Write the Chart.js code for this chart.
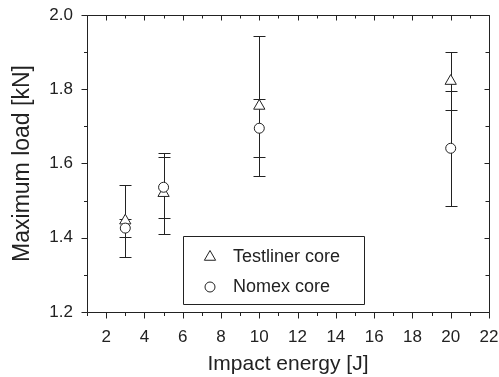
<!DOCTYPE html>
<html>
<head>
<meta charset="utf-8">
<script src="https://cdn.jsdelivr.net/npm/chart.js@4"></script>
<style>
  body { margin: 0; background: #fff; }
  #wrap { width: 499px; height: 377px; }
</style>
</head>
<body>
<div id="wrap"><canvas id="loadChart" width="499" height="377"></canvas></div>
<script>
// impact energy [J]
const energy = [3, 5, 10, 20];

// maximum load [kN] and error (+/-)
const testlinerLoad = [1.446, 1.520, 1.755, 1.822];
const testlinerErr = [0.097, 0.109, 0.189, 0.077];
const nomexLoad = [1.426, 1.536, 1.695, 1.641];
const nomexErr = [0.025, 0.082, 0.078, 0.155];

// tick labels
const xTickValues = [2, 4, 6, 8, 10, 12, 14, 16, 18, 20, 22];
const yTickValues = [1.2, 1.4, 1.6, 1.8, 2.0];

const ink = '#222';

// error bars, drawn under the hollow markers
const errorBars = {
    id: 'errorBars',
    beforeDatasetsDraw(chart) {
        const { ctx, scales: { x, y } } = chart;
        ctx.save();
        ctx.strokeStyle = ink;
        ctx.lineWidth = 1;
        chart.data.datasets.forEach((ds, i) => {
            if (!chart.isDatasetVisible(i)) return;
            ds.data.forEach((p, j) => {
                const e = ds.errors[j];
                const px = Math.round(x.getPixelForValue(p.x)) + 0.5;
                const top = Math.round(y.getPixelForValue(p.y + e)) + 0.5;
                const bot = Math.round(y.getPixelForValue(p.y - e)) + 0.5;
                ctx.beginPath();
                ctx.moveTo(px, top); ctx.lineTo(px, bot);
                ctx.moveTo(px - 6, top); ctx.lineTo(px + 6, top);
                ctx.moveTo(px - 6, bot); ctx.lineTo(px + 6, bot);
                ctx.stroke();
            });
        });
        ctx.restore();
    }
};

// box frame with major / minor ticks (out on bottom+left, in on top+right)
const frameTicks = {
    id: 'frameTicks',
    afterDraw(chart) {
        const { ctx, chartArea: a, scales: { x, y } } = chart;
        const L = Math.round(a.left) + 0.5, R = Math.round(a.right) + 0.5;
        const T = Math.round(a.top) + 0.5, B = Math.round(a.bottom) + 0.5;
        ctx.save();
        ctx.strokeStyle = ink;
        ctx.lineWidth = 1;
        ctx.beginPath();
        ctx.rect(L, T, R - L, B - T);

        for (let v = x.min; v <= x.max + 1e-9; v += 1) {
            const major = xTickValues.includes(v);
            const px = Math.round(x.getPixelForValue(v)) + 0.5;
            const len = major ? 6 : 3.5;
            ctx.moveTo(px, B); ctx.lineTo(px, B + len);
            ctx.moveTo(px, T); ctx.lineTo(px, T + (major ? 5 : 3));
        }
        for (let k = 0; k <= 8; k++) {
            const v = y.min + k * 0.1;
            const major = k % 2 === 0;
            const py = Math.round(y.getPixelForValue(v)) + 0.5;
            const len = major ? 6 : 3.5;
            ctx.moveTo(L, py); ctx.lineTo(L - len, py);
            ctx.moveTo(R, py); ctx.lineTo(R - (major ? 5 : 4), py);
        }
        ctx.stroke();
        ctx.restore();
    }
};

// legend box inside the plot
const boxLegend = {
    id: 'boxLegend',
    afterDraw(chart) {
        const { ctx } = chart;
        const box = { left: 183.5, top: 236.5, right: 364.5, bottom: 304.5 };
        ctx.save();
        ctx.strokeStyle = ink;
        ctx.lineWidth = 1;
        ctx.fillStyle = '#fff';
        ctx.beginPath();
        ctx.rect(box.left, box.top, box.right - box.left, box.bottom - box.top);
        ctx.fill();
        ctx.stroke();
        ctx.font = '18px "Liberation Sans", Arial, sans-serif';
        ctx.textBaseline = 'middle';
        chart.data.datasets.forEach((ds, i) => {
            const cy = 257 + i * 30;
            Chart.helpers.drawPoint(ctx, {
                pointStyle: ds.pointStyle,
                radius: ds.pointRadius,
                borderWidth: 1
            }, 210, cy);
            ctx.fillStyle = ink;
            ctx.fillText(ds.label, 233, cy);
            ctx.fillStyle = '#fff';
        });
        ctx.restore();
    }
};

const ctx = document.getElementById('loadChart').getContext('2d');
const loadChart = new Chart(ctx, {
    type: 'scatter',
    data: {
        datasets: [{
            label: 'Testliner core',
            data: energy.map((e, i) => ({ x: e, y: testlinerLoad[i] })),
            errors: testlinerErr,
            pointStyle: 'triangle',
            pointRadius: 6.5,
            pointHoverRadius: 6.5,
            pointBorderWidth: 1,
            pointBorderColor: ink,
            pointBackgroundColor: '#fff',
            order: 1
        }, {
            label: 'Nomex core',
            data: energy.map((e, i) => ({ x: e, y: nomexLoad[i] })),
            errors: nomexErr,
            pointStyle: 'circle',
            pointRadius: 5,
            pointHoverRadius: 5,
            pointBorderWidth: 1,
            pointBorderColor: ink,
            pointBackgroundColor: '#fff',
            order: 0
        }]
    },
    options: {
        responsive: false,
        animation: false,
        layout: { autoPadding: false, padding: { top: 15, right: 10, left: 0, bottom: 0 } },
        plugins: {
            legend: { display: false },
            tooltip: { enabled: false }
        },
        scales: {
            x: {
                type: 'linear',
                min: 1,
                max: 22,
                afterBuildTicks: axis => { axis.ticks = xTickValues.map(v => ({ value: v })); },
                afterFit: axis => {
                    axis.height = 65;
                    axis.paddingLeft = 0;
                    axis.paddingRight = 0;
                },
                grid: { display: false, drawTicks: false },
                border: { display: false },
                ticks: {
                    padding: 15,
                    color: ink,
                    font: { family: '"Liberation Sans", Arial, sans-serif', size: 17 }
                },
                title: {
                    display: true,
                    text: 'Impact energy [J]',
                    color: ink,
                    padding: { top: 0, bottom: 0 },
                    font: { family: '"Liberation Sans", Arial, sans-serif', size: 21 }
                }
            },
            y: {
                type: 'linear',
                min: 1.2,
                max: 2.0,
                afterBuildTicks: axis => { axis.ticks = yTickValues.map(v => ({ value: v })); },
                afterFit: axis => {
                    axis.width = 87;
                    axis.paddingTop = 0;
                    axis.paddingBottom = 0;
                },
                grid: { display: false, drawTicks: false },
                border: { display: false },
                ticks: {
                    padding: 14,
                    color: ink,
                    font: { family: '"Liberation Sans", Arial, sans-serif', size: 17 },
                    callback: v => v.toFixed(1)
                },
                title: {
                    display: true,
                    text: 'Maximum load [kN]',
                    color: ink,
                    padding: { top: 9, bottom: 0 },
                    font: { family: '"Liberation Sans", Arial, sans-serif', size: 23 }
                }
            }
        }
    },
    plugins: [errorBars, frameTicks, boxLegend]
});
</script>
</body>
</html>
